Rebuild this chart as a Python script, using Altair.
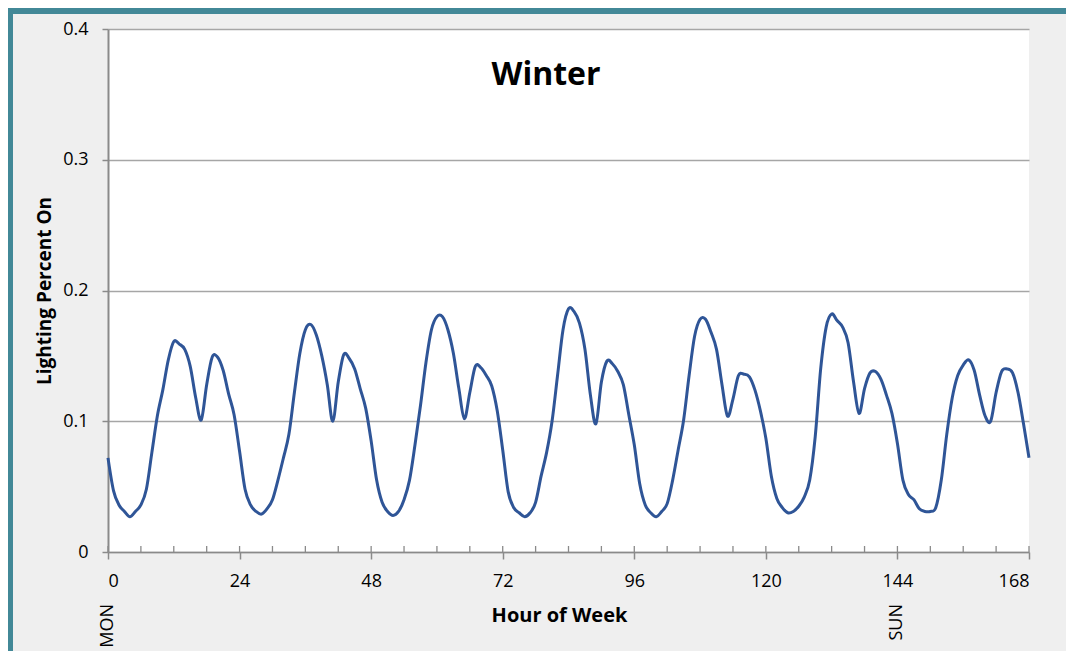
import altair as alt
import pandas as pd

# hourly lighting fraction (Mon 0h .. Sun 24h)
day_mon = [0.072, 0.047, 0.036, 0.031, 0.027, 0.031, 0.036, 0.048, 0.076, 0.104, 0.124, 0.147,
           0.161, 0.159, 0.155, 0.142, 0.118, 0.101, 0.128, 0.149, 0.149, 0.139, 0.121, 0.105]
day_tue = [0.077, 0.048, 0.036, 0.031, 0.029, 0.033, 0.040, 0.055, 0.072, 0.090, 0.122, 0.152,
           0.170, 0.174, 0.166, 0.150, 0.128, 0.100, 0.130, 0.151, 0.148, 0.140, 0.125, 0.110]
day_wed = [0.085, 0.055, 0.038, 0.031, 0.028, 0.031, 0.040, 0.055, 0.082, 0.112, 0.145, 0.170,
           0.180, 0.180, 0.170, 0.152, 0.125, 0.102, 0.122, 0.142, 0.141, 0.135, 0.127, 0.108]
day_thu = [0.078, 0.046, 0.034, 0.030, 0.027, 0.030, 0.038, 0.058, 0.076, 0.100, 0.135, 0.170,
           0.186, 0.184, 0.175, 0.155, 0.120, 0.098, 0.130, 0.146, 0.144, 0.138, 0.128, 0.105]
day_fri = [0.082, 0.052, 0.036, 0.030, 0.027, 0.031, 0.037, 0.055, 0.078, 0.101, 0.135, 0.165,
           0.178, 0.178, 0.168, 0.155, 0.128, 0.104, 0.117, 0.135, 0.136, 0.134, 0.124, 0.108]
day_sat = [0.087, 0.058, 0.041, 0.034, 0.030, 0.031, 0.035, 0.042, 0.055, 0.088, 0.140, 0.172,
           0.182, 0.177, 0.172, 0.160, 0.130, 0.106, 0.125, 0.137, 0.138, 0.132, 0.120, 0.106]
day_sun = [0.083, 0.055, 0.044, 0.040, 0.033, 0.031, 0.031, 0.034, 0.055, 0.090, 0.118, 0.135,
           0.143, 0.147, 0.139, 0.120, 0.104, 0.100, 0.122, 0.138, 0.140, 0.137, 0.122, 0.098,
           0.072]

values = day_mon + day_tue + day_wed + day_thu + day_fri + day_sat + day_sun
hours = list(range(len(values)))

x_ticks = [0, 24, 48, 72, 96, 120, 144, 168]
minor_ticks = list(range(0, 169, 6))
y_ticks = [0, 0.1, 0.2, 0.3, 0.4]
day_names = ["MON", "SUN"]
day_hours = [0, 144]
chart_title = "Winter"

W, H = 921, 523
PAD = {"left": 100, "top": 21, "right": 37, "bottom": 99}
FONT = "Open Sans"
BORDER = "#428897"

df = pd.DataFrame({"hour": hours, "value": values})
ticks_df = pd.DataFrame({"hour": minor_ticks})
days_df = pd.DataFrame({"hour": day_hours, "day": day_names})
one = pd.DataFrame({"k": [0]})

xscale = alt.Scale(domain=[0, 168], nice=False, zero=False)
yscale = alt.Scale(domain=[0, 0.4], nice=False)

line = alt.Chart(df).mark_line(
    color="#2f5597", strokeWidth=3, interpolate="cardinal"
).encode(
    x=alt.X("hour:Q", scale=xscale, axis=alt.Axis(
        values=x_ticks, grid=False, domainColor="#8a8a8a", domainWidth=1.5,
        tickColor="#8a8a8a", tickWidth=1.5, tickSize=7, labelFont=FONT, labelFontSize=18,
        labelColor="#000000", labelPadding=13, title="Hour of Week", titleFont=FONT,
        titleFontSize=20, titleFontWeight="bold", titleColor="#000000",
        titleX=451, titleY=69, titleBaseline="alphabetic", titleAnchor="start",
        titleAlign="center")),
    y=alt.Y("value:Q", scale=yscale, axis=alt.Axis(
        values=y_ticks, grid=True, gridColor="#a6a6a6", gridWidth=1.3,
        domainColor="#8a8a8a", domainWidth=2, tickColor="#8a8a8a", tickWidth=1.5,
        tickSize=6, labelFont=FONT, labelFontSize=18, labelColor="#000000",
        labelPadding=14,
        labelExpr="datum.value == 0 ? '0' : format(datum.value, '.1f')",
        title="Lighting Percent On", titleFont=FONT, titleFontSize=19,
        titleFontWeight="bold", titleColor="#000000", titleAngle=270,
        titleX=-64, titleY=H / 2, titleBaseline="middle", titleAlign="center")),
)

minor = alt.Chart(ticks_df).mark_rule(color="#8a8a8a", strokeWidth=1.3).encode(
    x=alt.X("hour:Q", scale=xscale),
    y=alt.value(H),
    y2=alt.value(H - 6),
)

title = alt.Chart(one).mark_text(
    text=chart_title, font=FONT, fontSize=32, fontWeight="bold", color="#000000",
    align="center", baseline="alphabetic"
).encode(x=alt.value(438), y=alt.value(56))

days = alt.Chart(days_df).mark_text(
    font=FONT, fontSize=18, color="#000000", angle=270, align="right",
    baseline="middle"
).encode(
    x=alt.X("hour:Q", scale=xscale),
    y=alt.value(H + 52),
    text="day:N",
)

left_border = alt.Chart(one).mark_rule(color=BORDER, strokeWidth=6).encode(
    x=alt.value(-PAD["left"] + 2), y=alt.value(-PAD["top"]),
    y2=alt.value(H + PAD["bottom"]),
)
top_border = alt.Chart(one).mark_rule(color=BORDER, strokeWidth=6).encode(
    y=alt.value(-PAD["top"] + 3), x=alt.value(-PAD["left"]),
    x2=alt.value(W + PAD["right"]),
)

chart = alt.layer(line, minor, title, days, left_border, top_border).properties(
    width=W, height=H,
    background="#efefef",
    padding=PAD,
    autosize=alt.AutoSizeParams(type="none"),
).configure_view(fill="#ffffff", strokeWidth=0)

chart.save("out.html", embed_options={"renderer": "svg", "actions": False})
